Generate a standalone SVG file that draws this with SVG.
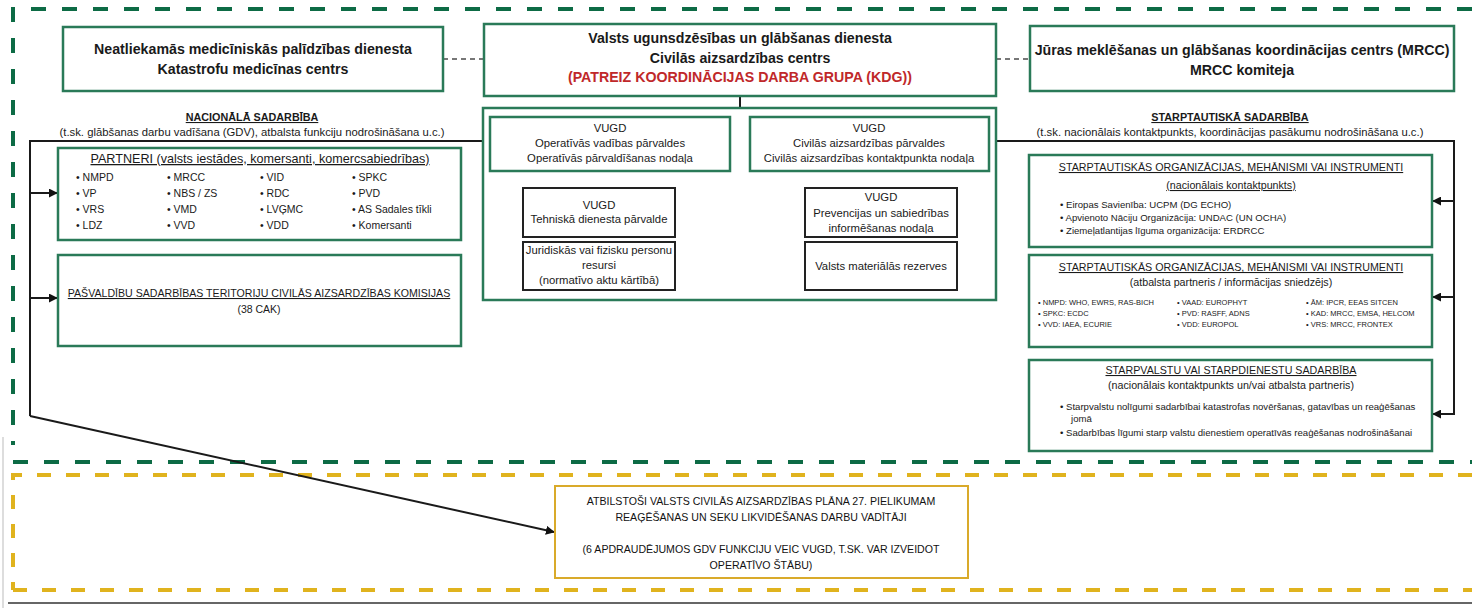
<svg xmlns="http://www.w3.org/2000/svg" width="1472" height="608" viewBox="0 0 1472 608">
<style>
text{font-family:"Liberation Sans",Arial,sans-serif;fill:#1a1a1a}
.t{font-size:14.2px;font-weight:bold;text-anchor:middle}
.red{fill:#c0282a}
.gbox{fill:#fff;stroke:#2a7a58;stroke-width:2.5}
.bbox{fill:#fff;stroke:#222;stroke-width:2}
.ybox{fill:#fff;stroke:#d9aa2a;stroke-width:2}
.gdash{fill:none;stroke:#0d6b45;stroke-width:4;stroke-dasharray:15 16}
.ydash{fill:none;stroke:#e0b31e;stroke-width:4;stroke-dasharray:14 15}
.conn{fill:none;stroke:#1a1a1a;stroke-width:2}
.gray{fill:none;stroke:#777;stroke-width:2;stroke-dasharray:5 4}
.s{font-size:11.3px;text-anchor:middle}
.sb{font-size:10.8px;font-weight:bold;text-anchor:middle;text-decoration:underline}
.c{font-size:11.3px;text-anchor:middle}
.p{font-size:10.5px}
.pt{font-size:12.6px;text-anchor:middle;text-decoration:underline}
.pk{font-size:10.6px;text-anchor:middle;text-decoration:underline}
.u{text-decoration:underline}
.r{font-size:10.7px;text-anchor:middle}
.rb{font-size:9.6px}
.rs{font-size:7.5px}
.y{font-size:10.6px;text-anchor:middle;fill:#111}
</style>
<defs>
<marker id="ah" viewBox="0 0 10 10" refX="9" refY="5" markerWidth="9" markerHeight="9" markerUnits="userSpaceOnUse" orient="auto">
<path d="M0,0 L10,5 L0,10 z" fill="#111"/>
</marker>
</defs>

<g id="frames">
<path class="gdash" d="M1472,9 H13 V445"/>
<path class="gdash" d="M13,462 H1472"/>
<path class="ydash" d="M1472,475 H13 V590"/>
<path class="ydash" d="M13,590 H1472"/>
<path d="M8,603 H1472" stroke="#666" stroke-width="1.8" fill="none"/>
<path d="M3,437 V608" stroke="#bbb" stroke-width="1" fill="none"/>
</g>

<g id="connectors">
<path class="gray" d="M443,59 H484"/>
<path class="gray" d="M996,59 H1030"/>
<path class="conn" d="M740,96 V108"/>
<path class="conn" d="M483,141 H30 V416"/>
<path class="conn" d="M30,193 H57" marker-end="url(#ah)"/>
<path class="conn" d="M30,298 H57" marker-end="url(#ah)"/>
<path class="conn" d="M30,416 L554,532" marker-end="url(#ah)"/>
<path class="conn" d="M996,141 H1454 V414 H1433" marker-end="url(#ah)"/>
<path class="conn" d="M1454,201 H1433" marker-end="url(#ah)"/>
<path class="conn" d="M1454,297 H1433" marker-end="url(#ah)"/>
<path class="conn" d="M740,108 V262"/>
<path class="conn" d="M730,143 H750"/>
<path class="conn" d="M675,212 H805"/>
<path class="conn" d="M675,265 H805"/>
</g>

<g id="nmpd">
<rect class="gbox" x="63" y="27" width="380" height="64"/>
<text class="t" x="253" y="54">Neatliekamās medicīniskās palīdzības dienesta</text>
<text class="t" x="253" y="74">Katastrofu medicīnas centrs</text>
</g>

<g id="vugd-cac">
<rect class="gbox" x="484" y="24" width="512" height="72"/>
<text class="t" x="740" y="43">Valsts ugunsdzēsības un glābšanas dienesta</text>
<text class="t" x="740" y="63">Civilās aizsardzības centrs</text>
<text class="t red" x="740" y="82">(PATREIZ KOORDINĀCIJAS DARBA GRUPA (KDG))</text>
</g>

<g id="mrcc">
<rect class="gbox" x="1030" y="26" width="424" height="65"/>
<text class="t" x="1242" y="55">Jūras meklēšanas un glābšanas koordinācijas centrs (MRCC)</text>
<text class="t" x="1242" y="75">MRCC komiteja</text>
</g>

<g id="nac-label">
<text class="sb" x="252" y="121">NACIONĀLĀ SADARBĪBA</text>
<text class="s" x="252" y="136">(t.sk. glābšanas darbu vadīšana (GDV), atbalsta funkciju nodrošināšana u.c.)</text>
</g>

<g id="int-label">
<text class="sb" x="1230" y="121">STARPTAUTISKĀ SADARBĪBA</text>
<text class="s" x="1230" y="136">(t.sk. nacionālais kontaktpunkts, koordinācijas pasākumu nodrošināšana u.c.)</text>
</g>

<g id="partneri">
<rect class="gbox" x="58" y="148" width="403" height="92"/>
<text class="pt" x="260" y="163">PARTNERI (valsts iestādes, komersanti, komercsabiedrības)</text>
<g class="p">
<text x="76" y="181">•  NMPD</text><text x="76" y="197">•  VP</text><text x="76" y="213">•  VRS</text><text x="76" y="229">•  LDZ</text>
<text x="167" y="181">•  MRCC</text><text x="167" y="197">•  NBS / ZS</text><text x="167" y="213">•  VMD</text><text x="167" y="229">•  VVD</text>
<text x="260" y="181">•  VID</text><text x="260" y="197">•  RDC</text><text x="260" y="213">•  LVĢMC</text><text x="260" y="229">•  VDD</text>
<text x="352" y="181">•  SPKC</text><text x="352" y="197">•  PVD</text><text x="352" y="213">•  AS Sadales tīkli</text><text x="352" y="229">•  Komersanti</text>
</g>
</g>

<g id="pasvaldibas">
<rect class="gbox" x="58" y="255" width="403" height="91"/>
<text class="pk" x="259" y="297">PAŠVALDĪBU SADARBĪBAS TERITORIJU CIVILĀS AIZSARDZĪBAS KOMISIJAS</text>
<text class="p" x="259" y="313" text-anchor="middle">(38 CAK)</text>
</g>

<g id="vugd-container">
<rect class="gbox" x="483" y="108" width="513" height="192"/>
</g>

<g id="ovp">
<rect class="gbox" x="490" y="117" width="240" height="54"/>
<text class="c" x="610" y="132">VUGD</text>
<text class="c" x="610" y="147">Operatīvās vadības pārvaldes</text>
<text class="c" x="610" y="162">Operatīvās pārvaldīšanas nodaļa</text>
</g>

<g id="cap">
<rect class="gbox" x="750" y="117" width="239" height="54"/>
<text class="c" x="869" y="132">VUGD</text>
<text class="c" x="869" y="147">Civilās aizsardzības pārvaldes</text>
<text class="c" x="869" y="162">Civilās aizsardzības kontaktpunkta nodaļa</text>
</g>

<g id="tdp">
<rect class="bbox" x="523" y="188" width="152" height="49"/>
<text class="c" x="599" y="209">VUGD</text>
<text class="c" x="599" y="223">Tehniskā dienesta pārvalde</text>
</g>

<g id="resursi">
<rect class="bbox" x="523" y="242" width="152" height="48"/>
<text class="c" x="599" y="254">Juridiskās vai fizisku personu</text>
<text class="c" x="599" y="269">resursi</text>
<text class="c" x="599" y="284">(normatīvo aktu kārtībā)</text>
</g>

<g id="prevencija">
<rect class="bbox" x="805" y="188" width="152" height="49"/>
<text class="c" x="881" y="201">VUGD</text>
<text class="c" x="881" y="217">Prevencijas un sabiedrības</text>
<text class="c" x="881" y="232">informēšanas nodaļa</text>
</g>

<g id="rezerves">
<rect class="bbox" x="805" y="242" width="152" height="48"/>
<text class="c" x="881" y="270">Valsts materiālās rezerves</text>
</g>

<g id="org-nkp">
<rect class="gbox" x="1029" y="155" width="403" height="92"/>
<text class="r u" x="1231" y="171">STARPTAUTISKĀS ORGANIZĀCIJAS, MEHĀNISMI VAI INSTRUMENTI</text>
<text class="r u" x="1231" y="189">(nacionālais kontaktpunkts)</text>
<g class="rb">
<text x="1060" y="208">•  Eiropas Savienība: UCPM (DG ECHO)</text>
<text x="1060" y="221">•  Apvienoto Nāciju Organizācija: UNDAC (UN OCHA)</text>
<text x="1060" y="234">•  Ziemeļatlantijas līguma organizācija: ERDRCC</text>
</g>
</g>

<g id="org-partneri">
<rect class="gbox" x="1029" y="255" width="403" height="92"/>
<text class="r u" x="1231" y="271">STARPTAUTISKĀS ORGANIZĀCIJAS, MEHĀNISMI VAI INSTRUMENTI</text>
<text class="r" x="1231" y="286">(atbalsta partneris / informācijas sniedzējs)</text>
<g class="rs">
<text x="1038" y="305">•  NMPD: WHO, EWRS, RAS-BICH</text>
<text x="1038" y="316">•  SPKC: ECDC</text>
<text x="1038" y="327">•  VVD: IAEA, ECURIE</text>
<text x="1177" y="305">•  VAAD: EUROPHYT</text>
<text x="1177" y="316">•  PVD: RASFF, ADNS</text>
<text x="1177" y="327">•  VDD: EUROPOL</text>
<text x="1306" y="305">•  ĀM: IPCR, EEAS SITCEN</text>
<text x="1306" y="316">•  KAD: MRCC, EMSA, HELCOM</text>
<text x="1306" y="327">•  VRS: MRCC, FRONTEX</text>
</g>
</g>

<g id="starpvalstu">
<rect class="gbox" x="1029" y="360" width="403" height="91"/>
<text class="r u" x="1231" y="374">STARPVALSTU VAI STARPDIENESTU SADARBĪBA</text>
<text class="r" x="1231" y="389">(nacionālais kontaktpunkts un/vai atbalsta partneris)</text>
<g class="rb">
<text x="1060" y="410">•  Starpvalstu nolīgumi sadarbībai katastrofas novēršanas, gatavības un reaģēšanas</text>
<text x="1071" y="422">jomā</text>
<text x="1060" y="436">•  Sadarbības līgumi starp valstu dienestiem operatīvās reaģēšanas nodrošināšanai</text>
</g>
</g>

<g id="gdv">
<rect class="ybox" x="555" y="486" width="413" height="92"/>
<text class="y" x="761" y="505">ATBILSTOŠI VALSTS CIVILĀS AIZSARDZĪBAS PLĀNA 27. PIELIKUMAM</text>
<text class="y" x="761" y="521">REAĢĒŠANAS UN SEKU LIKVIDĒŠANAS DARBU VADĪTĀJI</text>
<text class="y" x="761" y="553">(6 APDRAUDĒJUMOS GDV FUNKCIJU VEIC VUGD, T.SK. VAR IZVEIDOT</text>
<text class="y" x="761" y="569">OPERATĪVO ŠTĀBU)</text>
</g>
</svg>
